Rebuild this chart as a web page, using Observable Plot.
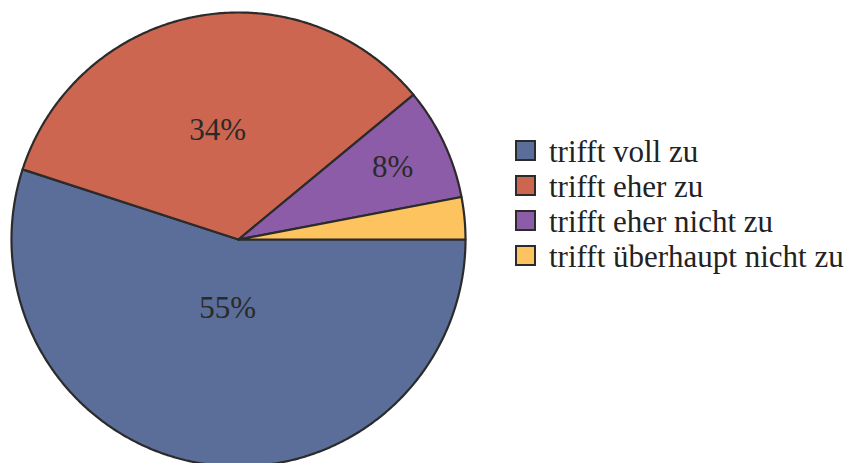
<!DOCTYPE html>
<html>
<head>
<meta charset="utf-8">
<script src="https://cdn.jsdelivr.net/npm/d3@7"></script>
<script src="https://cdn.jsdelivr.net/npm/@observablehq/plot@0.6"></script>
<style>
  html, body { margin: 0; padding: 0; background: #fff; }
  #wrap { position: relative; width: 855px; height: 463px; overflow: hidden; }
  #legend { position: absolute; left: 515px; top: 134px; font-family: serif; font-size: 31px; color: #222; }
  .row { position: relative; height: 35px; line-height: 35px; white-space: nowrap; }
  .sw { position: absolute; left: 0; top: 6px; width: 17px; height: 17px; border: 2.5px solid #2b2b2b; }
  .lab { position: absolute; left: 34px; top: 0; font-family: serif; }
</style>
</head>
<body>
<div id="wrap">
  <div id="chart"></div>
  <div id="legend"></div>
</div>
<script>
// Answer categories and their shares (percent)
const categories = ["trifft voll zu", "trifft eher zu", "trifft eher nicht zu", "trifft überhaupt nicht zu"];
const shares = [55, 34, 8, 3];
const valueLabels = ["55%", "34%", "8%", ""];
const colors = ["#5b6e99", "#cc6650", "#8c5ca8", "#fdc35e"];

// Distance of each percentage label from the centre (fraction of the radius)
const labelRadius = [0.305, 0.49, 0.75, 0.75];

const total = d3.sum(shares);

// Slices start at 3 o'clock and run clockwise
let acc = 0;
const slices = shares.map((v, i) => {
  const a0 = acc / total * 2 * Math.PI;
  acc += v;
  const a1 = acc / total * 2 * Math.PI;
  return {key: categories[i], value: v, label: valueLabels[i], a0, a1, i};
});

// Outline polygon of each wedge in unit-circle coordinates (y up)
const wedgePts = [];
for (const s of slices) {
  wedgePts.push({key: s.key, x: 0, y: 0});
  const n = Math.max(2, Math.ceil((s.a1 - s.a0) / (Math.PI / 360)));
  for (let k = 0; k <= n; k++) {
    const a = s.a0 + (s.a1 - s.a0) * k / n;
    wedgePts.push({key: s.key, x: Math.cos(-a), y: Math.sin(-a)});
  }
}

const labelPts = slices.filter(s => s.label).map(s => {
  const m = (s.a0 + s.a1) / 2;
  const r = labelRadius[s.i];
  return {label: s.label, x: r * Math.cos(-m), y: r * Math.sin(-m)};
});

const R = 227, cx = 238, cy = 239;

const chart = Plot.plot({
  width: 855,
  height: 463,
  margin: 0,
  style: {background: "#fff", overflow: "hidden", fontFamily: "serif"},
  x: {domain: [-1, 1], range: [cx - R, cx + R], axis: null},
  y: {domain: [-1, 1], range: [cy + R, cy - R], axis: null},
  color: {domain: categories, range: colors},
  marks: [
    Plot.line(wedgePts, {
      x: "x", y: "y", z: "key", fill: "key",
      stroke: "#2b2b2b", strokeWidth: 2.2,
      strokeLinejoin: "round",
      curve: "linear-closed"
    }),
    Plot.text(labelPts, {
      x: "x", y: "y", text: "label",
      fontSize: 31, fill: "#2a2a2a",
      fontFamily: "serif"
    })
  ]
});
document.getElementById("chart").appendChild(chart);

// Legend
const legend = d3.select("#legend");
categories.forEach((c, i) => {
  const row = legend.append("div").attr("class", "row");
  row.append("span").attr("class", "sw").style("background", colors[i]);
  row.append("span").attr("class", "lab").text(c);
});
</script>
</body>
</html>
